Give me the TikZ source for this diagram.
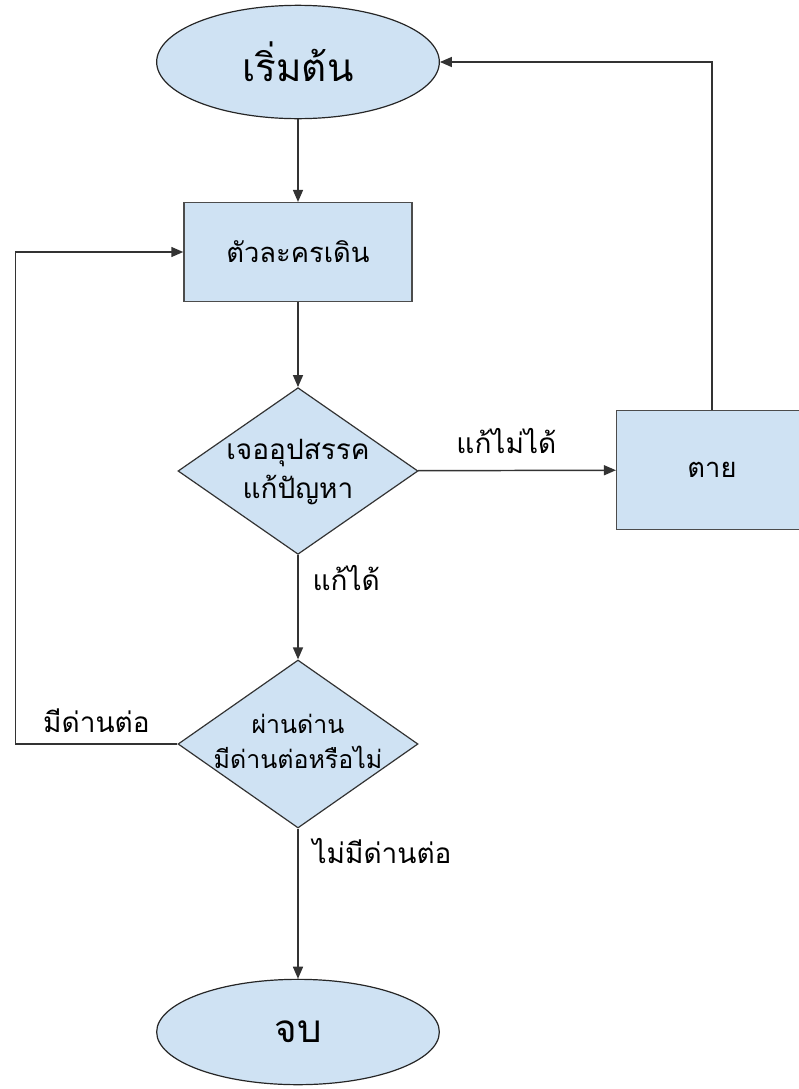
\documentclass[tikz,border=0pt]{standalone}
\usepackage{fontspec}
\newfontfamily\thaifont[Script=Thai]{Loma}
\usetikzlibrary{shapes.geometric, arrows.meta, positioning}
\definecolor{boxblue}{RGB}{207,226,243}

\begin{document}
\begin{tikzpicture}[x=0.75pt, y=-0.75pt,
  terminal/.style={ellipse, draw=black!85, fill=boxblue, line width=0.9pt,
    minimum width=212pt, minimum height=85pt, font=\thaifont\fontsize{29}{34}\selectfont},
  process/.style={rectangle, draw=black!70, fill=boxblue, line width=1.1pt,
    minimum width=171pt, minimum height=74pt, font=\thaifont\fontsize{20.5}{24}\selectfont},
  decision/.style={diamond, draw=black!80, fill=boxblue, line width=0.9pt,
    minimum width=180pt, minimum height=125pt, inner sep=0pt},
  dtext/.style={align=center, font=\thaifont\fontsize{21}{29}\selectfont},
  flow/.style={draw=black!80, line width=1.1pt, -{Triangle[length=9pt,width=7.5pt]}},
  lbl/.style={font=\thaifont\fontsize{21}{24}\selectfont}]
\useasboundingbox (0,0) rectangle (799,1089);

% shapes
\node (start) [terminal] at (298,62) {เริ่มต้น};
\node (walk) [process] at (298,252) {ตัวละครเดิน};
\node (obst) [decision] at (298,471) {};
\node (obsttxt) [dtext] at ([yshift=-1pt]obst) {เจออุปสรรค\\แก้ปัญหา};
\node (dead) [process, minimum width=143pt, minimum height=89pt] at (712,470) {ตาย};
\node (stage) [decision, minimum height=126pt] at (298,744) {};
\node (stagetxt) [dtext, font=\thaifont\fontsize{18.7}{26}\selectfont] at ([yshift=2pt]stage) {ผ่านด่าน\\มีด่านต่อหรือไม่};
\node (end) [terminal, minimum height=79pt] at (298,1032) {จบ};

% connectors
\draw [flow] (start) -- (walk);
\draw [flow] (walk) -- (obst);
\draw [flow] (obst) -- node[lbl, above=9pt, xshift=-8pt] {แก้ไม่ได้} (dead);
\draw [flow] (dead.north) |- (start.east);
\draw [flow] (obst) -- node[lbl, right=7pt, pos=0.22] {แก้ได้} (stage);
\draw [flow] (stage.west) -- node[lbl, above=5pt, pos=0.5] {มีด่านต่อ} ++(-162,0) |- (walk.west);
\draw [flow] (stage) -- node[lbl, right=7pt, pos=0.15] {ไม่มีด่านต่อ} (end);
\end{tikzpicture}
\end{document}
